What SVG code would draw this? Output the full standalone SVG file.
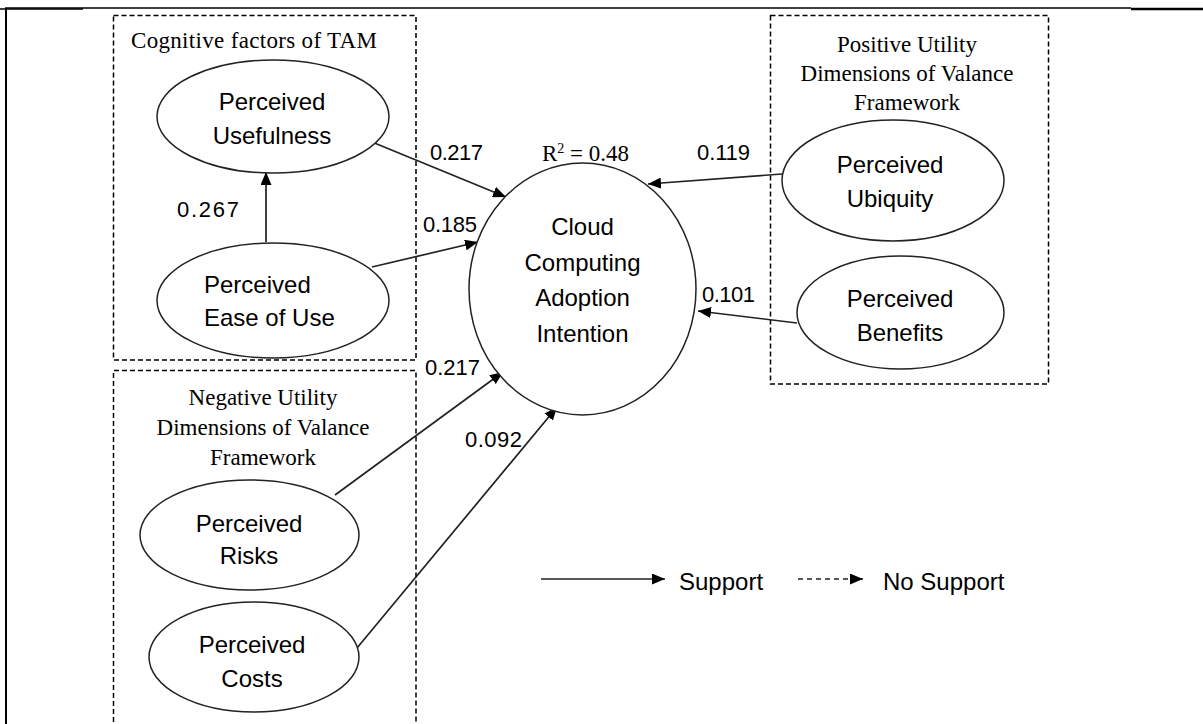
<svg xmlns="http://www.w3.org/2000/svg" width="1203" height="724" viewBox="0 0 1203 724">
<style>
.frame{stroke:#000;fill:none}
.box{fill:none;stroke:#000;stroke-width:1.5;stroke-dasharray:5,3}
.node ellipse{fill:#fff;stroke:#222;stroke-width:1.5}
.lbl{font-family:"Liberation Sans",Arial,sans-serif;font-size:24px;fill:#000;text-anchor:middle}
.num{font-family:"Liberation Sans",Arial,sans-serif;font-size:22px;fill:#000}
.ttl{font-family:"Liberation Serif","Times New Roman",serif;font-size:23px;fill:#000;text-anchor:middle}
.edge{stroke:#222;stroke-width:1.7;fill:none;marker-end:url(#ah)}
</style>
<defs>
<marker id="ah" viewBox="0 0 13 11" refX="13" refY="5.5" markerWidth="13" markerHeight="11" markerUnits="userSpaceOnUse" orient="auto">
<path d="M0,0 L13,5.5 L0,11 z" fill="#000"/>
</marker>
</defs>
<rect width="1203" height="724" fill="#fff"/>
<g id="frame">
<line class="frame" x1="5" y1="8" x2="1131" y2="8" stroke-width="1.5"/>
<line class="frame" x1="0" y1="9" x2="83" y2="9" stroke-width="1.5"/>
<line class="frame" x1="1131" y1="9" x2="1203" y2="9" stroke-width="2.5"/>
<line class="frame" x1="6" y1="8" x2="6" y2="724" stroke-width="2"/>
</g>
<g id="group-tam">
<rect class="box" x="113.5" y="15.5" width="302.5" height="344.5"/>
<text class="ttl" x="131" y="48" style="text-anchor:start" textLength="246">Cognitive factors of TAM</text>
</g>
<g id="group-positive">
<rect class="box" x="770.5" y="15.5" width="278" height="368.5"/>
<text class="ttl" x="907" y="52">Positive Utility</text>
<text class="ttl" x="907" y="81">Dimensions of Valance</text>
<text class="ttl" x="907" y="110">Framework</text>
</g>
<g id="group-negative">
<path class="box" d="M113.5,730 V370.5 H416 V730"/>
<text class="ttl" x="263" y="405">Negative Utility</text>
<text class="ttl" x="263" y="435">Dimensions of Valance</text>
<text class="ttl" x="263" y="465">Framework</text>
</g>
<g id="connectors">
<line class="edge" x1="266" y1="242" x2="266" y2="172"/>
<line class="edge" x1="372" y1="142" x2="506" y2="197"/>
<line class="edge" x1="372" y1="267" x2="478" y2="242"/>
<line class="edge" x1="782" y1="174" x2="648" y2="184"/>
<line class="edge" x1="797" y1="323" x2="698" y2="311"/>
<line class="edge" x1="335" y1="495" x2="503" y2="372"/>
<line class="edge" x1="357" y1="648" x2="557" y2="407"/>
</g>
<g id="node-usefulness" class="node">
<ellipse cx="273" cy="116.5" rx="116" ry="56.5"/>
<text class="lbl" x="272" y="110">Perceived</text>
<text class="lbl" x="272" y="144">Usefulness</text>
</g>
<g id="node-ease" class="node">
<ellipse cx="273" cy="300.5" rx="116" ry="57.5"/>
<text class="lbl" x="204" y="293" style="text-anchor:start">Perceived</text>
<text class="lbl" x="204" y="326" style="text-anchor:start">Ease of Use</text>
</g>
<g id="node-cloud" class="node">
<ellipse cx="582.5" cy="289" rx="113.5" ry="126"/>
<text class="lbl" x="582.5" y="235">Cloud</text>
<text class="lbl" x="582.5" y="271">Computing</text>
<text class="lbl" x="582.5" y="306">Adoption</text>
<text class="lbl" x="582.5" y="342">Intention</text>
</g>
<g id="node-ubiquity" class="node">
<ellipse cx="893" cy="180.5" rx="111" ry="60.5"/>
<text class="lbl" x="890" y="173">Perceived</text>
<text class="lbl" x="890" y="207">Ubiquity</text>
</g>
<g id="node-benefits" class="node">
<ellipse cx="900.5" cy="312.5" rx="103.5" ry="56.5"/>
<text class="lbl" x="900" y="307">Perceived</text>
<text class="lbl" x="900" y="341">Benefits</text>
</g>
<g id="node-risks" class="node">
<ellipse cx="249.5" cy="535" rx="109.5" ry="55"/>
<text class="lbl" x="249" y="532">Perceived</text>
<text class="lbl" x="249" y="564">Risks</text>
</g>
<g id="node-costs" class="node">
<ellipse cx="254" cy="657" rx="105" ry="55"/>
<text class="lbl" x="252" y="653">Perceived</text>
<text class="lbl" x="252" y="687">Costs</text>
</g>
<g id="labels">
<text class="num" x="177" y="217" textLength="62">0.267</text>
<text class="num" x="430" y="160" textLength="53">0.217</text>
<text class="num" x="423" y="232" textLength="54">0.185</text>
<text class="num" x="697" y="160" textLength="53">0.119</text>
<text class="num" x="702" y="302" textLength="53">0.101</text>
<text class="num" x="425" y="375" textLength="55">0.217</text>
<text class="num" x="465" y="447" textLength="57">0.092</text>
<text x="542" y="161" style="font-family:'Liberation Serif','Times New Roman',serif;font-size:23px;fill:#000">R<tspan dy="-8" font-size="14">2</tspan><tspan dy="8"> = 0.48</tspan></text>
</g>
<g id="legend">
<line class="edge" x1="541" y1="579" x2="665" y2="579"/>
<text class="lbl" x="679" y="590" style="text-anchor:start">Support</text>
<line class="edge" x1="798" y1="579" x2="863" y2="579" stroke-dasharray="5,4"/>
<text class="lbl" x="883" y="590" style="text-anchor:start">No Support</text>
</g>
</svg>
